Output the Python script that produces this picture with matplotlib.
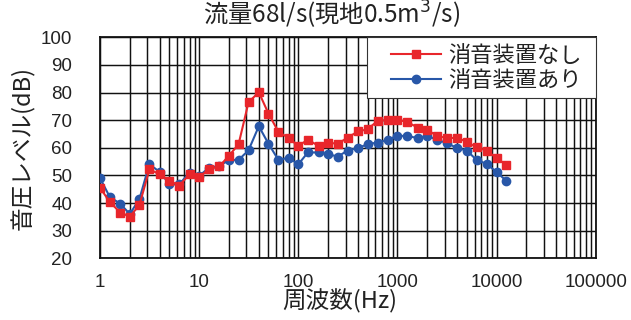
import matplotlib
matplotlib.use("Agg")
import matplotlib.pyplot as plt
from matplotlib.ticker import LogLocator, NullFormatter, FixedLocator, FixedFormatter
from matplotlib.legend_handler import HandlerLine2D
from matplotlib.lines import Line2D

plt.rcParams['font.family'] = ['Noto Sans CJK JP', 'DejaVu Sans']

# 1/3-octave band centre frequencies (Hz)
freq = [1, 1.25, 1.6, 2, 2.5, 3.15, 4, 5, 6.3, 8,
        10, 12.5, 16, 20, 25, 31.5, 40, 50, 63, 80,
        100, 125, 160, 200, 250, 315, 400, 500, 630, 800,
        1000, 1250, 1600, 2000, 2500, 3150, 4000, 5000, 6300, 8000,
        10000, 12500]

# Sound pressure level without silencer (dB)
level_without = [45.5, 40.5, 36.5, 35.1, 39.3, 52.2, 50.4, 48.1, 46.3, 50.4,
                 49.3, 52.2, 53.3, 57.1, 61.3, 76.5, 80.1, 72.4, 65.8, 63.5,
                 60.7, 62.9, 60.7, 61.9, 61.4, 63.7, 65.9, 66.7, 69.7, 70.1,
                 70.1, 69.4, 67.3, 66.5, 64.3, 63.5, 63.6, 62.2, 60.1, 59.0,
                 56.2, 53.9]

# Sound pressure level with silencer (dB)
level_with = [49.0, 42.3, 39.7, 36.0, 41.5, 54.1, 51.2, 46.9, 46.8, 51.0,
              49.8, 52.7, 53.4, 55.6, 55.6, 59.1, 67.8, 61.5, 55.6, 56.4,
              54.0, 58.3, 58.3, 57.7, 56.8, 59.0, 59.9, 61.3, 61.9, 62.9,
              64.3, 64.3, 63.5, 64.3, 62.9, 61.7, 59.9, 59.0, 55.6, 54.1,
              51.2, 48.1]

x_ticks = [1, 10, 100, 1000, 10000, 100000]
x_tick_labels = ['1', '10', '100', '1000', '10000', '100000']
y_ticks = [20, 30, 40, 50, 60, 70, 80, 90, 100]

label_without = '消音装置なし'
label_with = '消音装置あり'

fig = plt.figure(figsize=(6.31, 3.20), dpi=100)
ax = fig.add_axes([0.1585, 0.193, 0.7855, 0.6905])

red = '#E8262B'
blue = '#2857A8'

ax.plot(freq, level_without, color=red, lw=1.5, marker='s', ms=6,
        label=label_without, zorder=4)
ax.plot(freq, level_with, color=blue, lw=1.5, marker='o', ms=6,
        label=label_with, zorder=3)

ax.set_xscale('log')
ax.set_xlim(1, 100000)
ax.set_ylim(20, 100)

ax.xaxis.set_major_locator(FixedLocator(x_ticks))
ax.xaxis.set_major_formatter(FixedFormatter(x_tick_labels))
ax.xaxis.set_minor_locator(LogLocator(base=10, subs=range(2, 10), numticks=20))
ax.xaxis.set_minor_formatter(NullFormatter())
ax.set_yticks(y_ticks)

ax.grid(True, which='major', axis='both', color='#111111', lw=1.05)
ax.grid(True, which='minor', axis='x', color='#111111', lw=1.05)
ax.set_axisbelow(True)

for s in ax.spines.values():
    s.set_color('#111111')
    s.set_linewidth(1.3)

tick_font = ['Liberation Sans', 'DejaVu Sans']
ax.tick_params(axis='both', which='both', length=0)
ax.tick_params(axis='x', pad=11)
ax.tick_params(axis='y', pad=20)
for lab in ax.get_xticklabels() + ax.get_yticklabels():
    lab.set_fontfamily(tick_font)
    lab.set_fontsize(13.5)
    lab.set_color('#222222')

# Legend: line samples inset from the frame's left edge, frame spanning to the right spine
inset_handler = HandlerLine2D(xpad=0.8)
leg = ax.legend(loc='upper right', bbox_to_anchor=(0.5386, 0.0, 0.4614, 1.0),
                mode='expand', fontsize=16, frameon=True, fancybox=False,
                borderaxespad=0.0, handlelength=3.05, handletextpad=0.32,
                labelspacing=0.1, borderpad=0.28,
                handler_map={Line2D: inset_handler})
leg.get_frame().set_edgecolor('#333333')
leg.get_frame().set_linewidth(0.8)
leg.get_frame().set_alpha(1.0)
for t in leg.get_texts():
    t.set_color('#222222')

fig.text(0.526, 0.952, '流量68l/s(現地0.5m$^3$/s)', ha='center', va='center',
         fontsize=17.5, color='#222222')
fig.text(0.539, 0.058, '周波数(Hz)', ha='center', va='center',
         fontsize=17, color='#222222')
fig.text(0.036, 0.537, '音圧レベル(dB)', ha='center', va='center',
         rotation=90, fontsize=17, color='#222222')

fig.savefig('out.png', dpi=100)
